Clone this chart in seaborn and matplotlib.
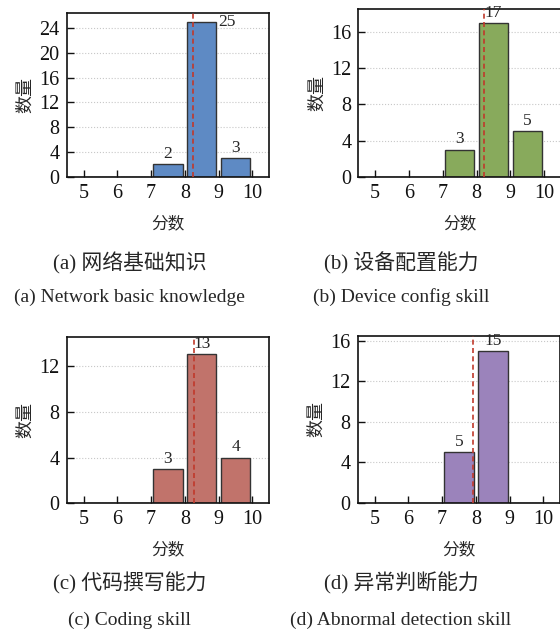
import numpy as np
import pandas as pd
import matplotlib
matplotlib.use("Agg")
import matplotlib.pyplot as plt
import seaborn as sns

# Score bins and per-skill counts
bin_edges = [5, 6, 7, 8, 9, 10]
bin_centers = [5.5, 6.5, 7.5, 8.5, 9.5]
counts_network = [0, 0, 2, 25, 3]
counts_device = [0, 0, 3, 17, 5]
counts_coding = [0, 0, 3, 13, 4]
counts_abnormal = [0, 0, 5, 15, 0]
mean_scores = [8.23, 8.22, 8.27, 7.90]

bar_colors = ["#5e8ac4", "#88aa5c", "#c1736b", "#9b83bb"]
y_ticks = [[0, 4, 8, 12, 16, 20, 24], [0, 4, 8, 12, 16], [0, 4, 8, 12], [0, 4, 8, 12, 16]]
captions_cn = ["(a) 网络基础知识", "(b) 设备配置能力", "(c) 代码撰写能力", "(d) 异常判断能力"]
captions_en = ["(a) Network basic knowledge", "(b) Device config skill",
               "(c) Coding skill", "(d) Abnormal detection skill"]

sns.set_theme(style="ticks")
plt.rcParams["font.family"] = ["Liberation Serif", "Noto Sans CJK SC"]
plt.rcParams["axes.unicode_minus"] = False

fig = plt.figure(figsize=(5.6, 6.35), dpi=100)

rects = [
    [0.119, 0.7217, 0.362, 0.2583],
    [0.6398, 0.7217, 0.362, 0.2637],
    [0.119, 0.2074, 0.362, 0.2614],
    [0.6387, 0.2083, 0.362, 0.2626],
]
all_counts = [counts_network, counts_device, counts_coding, counts_abnormal]
cap_x = [0.232, 0.716, 0.232, 0.716]
cap_cn_y = [0.5858, 0.5858, 0.0819, 0.0819]
cap_en_y = [0.5323, 0.5323, 0.0236, 0.0236]

for i, (rect, counts) in enumerate(zip(rects, all_counts)):
    ax = fig.add_axes(rect)
    df = pd.DataFrame({"score": bin_centers, "count": counts})
    sns.histplot(data=df, x="score", weights="count", bins=bin_edges,
                 shrink=0.87, color=bar_colors[i], alpha=1.0,
                 edgecolor="#333333", linewidth=1.0, ax=ax, zorder=2)
    ax.axvline(mean_scores[i], color="#c0392b", ls="--", lw=1.2,
               dashes=(3, 2), zorder=3)

    ymax = max(counts) + 1.5
    ax.set_xlim(4.5, 10.5)
    ax.set_ylim(0, ymax)
    ax.set_xticks([5, 6, 7, 8, 9, 10])
    ax.set_yticks(y_ticks[i])
    ax.yaxis.grid(True, ls=":", lw=0.8, color="#c8c8c8", zorder=0)
    ax.set_axisbelow(True)
    ax.tick_params(direction="in", length=5, width=1.0, labelsize=14.5,
                   colors="#111111", pad=5)
    for sp in ax.spines.values():
        sp.set_linewidth(1.2)
        sp.set_color("#111111")

    ax.set_xlabel("分数", family=["Noto Sans CJK SC"], fontsize=12, labelpad=9)
    ax.set_ylabel("数量", family=["Noto Sans CJK SC"], fontsize=13, labelpad=4)

    # value labels above non-empty bars
    top = max(counts)
    for c, v in zip(bin_centers, counts):
        if v == 0:
            continue
        if i == 0 and v == top:
            ax.text(c + 0.75, v, str(v), ha="center", va="center", fontsize=12.5)
        else:
            ax.annotate(str(v), (c, v), xytext=(0, 1.5), textcoords="offset points",
                        ha="center", va="bottom", fontsize=12.5)

    fig.text(cap_x[i], cap_cn_y[i], captions_cn[i], ha="center", va="center", fontsize=15)
    fig.text(cap_x[i], cap_en_y[i], captions_en[i], ha="center", va="center", fontsize=14)

fig.savefig("out.png", dpi=100)
